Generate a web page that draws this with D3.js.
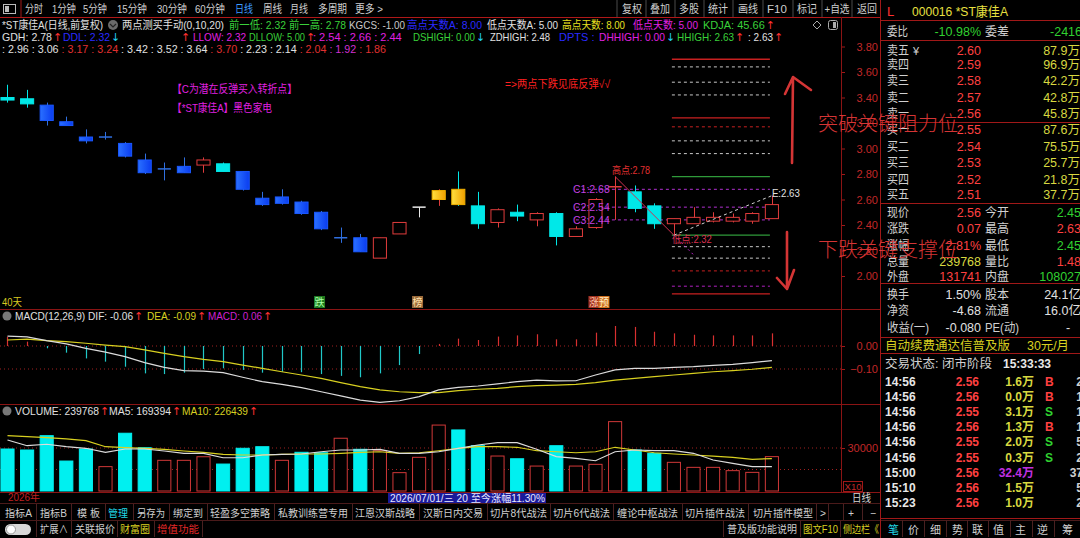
<!DOCTYPE html>
<html>
<head>
<meta charset="utf-8">
<title>*ST康佳A 日线</title>
<script src="https://cdn.jsdelivr.net/npm/d3@7/dist/d3.min.js"></script>
<style>
  html, body { margin: 0; padding: 0; background: #000; overflow: hidden; }
  svg { display: block; }
  text { font-family: "Liberation Sans", "Noto Sans CJK SC", sans-serif; }
</style>
</head>
<body>
<div id="chart"></div>
<script>
// ---------------- data ----------------
const opens  = [3.40,3.39,3.34,3.21,3.09,3.09,3.04,2.91,2.84,2.81,2.87,2.88,2.82,2.61,2.57,2.58,2.50,2.30,2.30,2.14,
                2.33,2.54,2.60,2.68,2.55,2.42,2.50,2.44,2.49,2.31,2.38,2.69,2.66,2.55,2.41,2.41,2.43,2.43,2.43,2.45];
const highs  = [3.50,3.46,3.36,3.25,3.15,3.13,3.05,2.96,2.89,2.93,2.93,2.89,2.82,2.66,2.68,2.59,2.51,2.38,2.33,2.30,
                2.42,2.54,2.68,2.82,2.66,2.53,2.56,2.50,2.50,2.39,2.61,2.78,2.71,2.57,2.45,2.54,2.50,2.49,2.50,2.63];
const lows   = [3.36,3.32,3.18,3.18,3.04,3.07,2.93,2.80,2.75,2.81,2.81,2.82,2.67,2.55,2.56,2.48,2.36,2.26,2.19,2.14,
                2.33,2.46,2.55,2.55,2.37,2.38,2.43,2.39,2.24,2.31,2.37,2.44,2.50,2.37,2.32,2.41,2.42,2.42,2.41,2.45];
const closes = [3.38,3.35,3.22,3.18,3.06,3.09,2.94,2.81,2.84,2.86,2.91,2.82,2.68,2.56,2.62,2.49,2.37,2.30,2.19,2.30,
                2.42,2.54,2.67,2.56,2.41,2.52,2.47,2.49,2.31,2.37,2.60,2.70,2.53,2.41,2.45,2.46,2.46,2.46,2.49,2.56];
// colour the indicator paints on each stick
const paint  = ["cyan","cyan","blue","blue","blue","blue","blue","blue","blue","blue","red","cyan","blue","blue","blue","blue","blue","blue","blue","red",
                "red","white","yellow","yellow","cyan","red","cyan","red","cyan","red","red","red","cyan","cyan","red","red","red","red","red","red"];

const volumes = [293000,286000,386000,209000,293000,170000,403000,302000,214000,214000,239000,188000,298000,309000,214000,270000,267000,368000,291000,281000,
                 128000,235000,460000,426000,316000,244000,225000,174000,316000,174000,186000,484000,286000,263000,200000,165000,165000,142000,130000,239768];
const volUp   = [0,0,0,0,0,1,0,0,1,1,1,0,0,0,1,0,0,1,0,1, 1,1,1,0,0,1,0,1,0,1,1,1,0,0,1,1,1,1,1,1];
const ma5     = [356000,316000,326000,309000,298000,270000,293000,293000,279000,263000,263000,232000,232000,251000,256000,258000,274000,286000,286000,291000,
                 263000,263000,274000,298000,321000,337000,337000,291000,240000,228000,211000,274000,286000,281000,281000,263000,216000,193000,170000,169394];
const ma10    = [386000,379000,372000,363000,351000,309000,302000,298000,291000,279000,270000,256000,251000,251000,256000,258000,258000,263000,270000,274000,
                 263000,267000,281000,298000,309000,309000,305000,281000,274000,267000,274000,305000,286000,267000,258000,251000,244000,235000,221000,226439];

const dif  = [0.043,0.040,0.023,0.009,-0.010,-0.027,-0.046,-0.072,-0.093,-0.107,-0.109,-0.116,-0.136,-0.155,-0.167,-0.181,-0.199,-0.217,-0.235,-0.245,
              -0.238,-0.220,-0.191,-0.180,-0.174,-0.165,-0.155,-0.148,-0.152,-0.151,-0.126,-0.104,-0.097,-0.097,-0.093,-0.090,-0.084,-0.080,-0.072,-0.064];
const dea  = [0.026,0.030,0.023,0.019,0.012,0.004,-0.003,-0.017,-0.032,-0.046,-0.058,-0.068,-0.083,-0.097,-0.112,-0.126,-0.141,-0.159,-0.177,-0.191,
              -0.199,-0.203,-0.203,-0.194,-0.188,-0.184,-0.177,-0.172,-0.170,-0.167,-0.159,-0.148,-0.141,-0.133,-0.126,-0.119,-0.112,-0.107,-0.101,-0.093];
const macd = [0.040,0.019,-0.010,-0.029,-0.054,-0.068,-0.090,-0.119,-0.122,-0.116,-0.100,-0.097,-0.104,-0.116,-0.112,-0.114,-0.122,-0.130,-0.136,-0.119,
              -0.083,-0.035,0.009,0.032,0.026,0.041,0.046,0.051,0.029,0.029,0.058,0.087,0.083,0.062,0.055,0.049,0.046,0.046,0.046,0.055];

// price levels of the 两点测买 indicator (header order)
const levels      = [2.96,3.06,3.17,3.24,3.42,3.52,3.64,3.70,2.23,2.14,2.04,1.92,1.86];
const levelKind   = ["w","w","r","r","w","w","w","r","w","w","r","p","r"];
const levelSolid  = [0,0,0,1,0,0,0,1,0,0,0,0,1];
const cLevels     = [2.68,2.54,2.44];
const cNames      = ["C1","C2","C3"];
const highIdx = 31, highVal = 2.78, lowIdx = 34, lowVal = 2.32, eVal = 2.63;

const priceTicks = [2.0,2.2,2.4,2.6,2.8,3.0,3.2,3.4,3.6,3.8];
const macdTicks  = [-0.1,0];
const volTicks   = [150000,300000];

const markIdx  = [16,21,30,30];
const markText = ["跌","榜","涨","预"];

// right-hand quote panel
const askNames = ["卖五","卖四","卖三","卖二","卖一"];
const askPrice = ["2.60","2.59","2.58","2.57","2.56"];
const askVol   = ["87.9万","96.9万","42.2万","42.8万","45.8万"];
const bidNames = ["买一","买二","买三","买四","买五"];
const bidPrice = ["2.55","2.54","2.53","2.52","2.51"];
const bidVol   = ["87.6万","75.5万","25.7万","21.8万","37.7万"];
const quoteL   = ["现价","涨跌","涨幅","总量","外盘"];
const quoteLV  = ["2.56","0.07","2.81%","239768","131741"];
const quoteR   = ["今开","最高","最低","量比","内盘"];
const quoteRV  = ["2.45","2.63","2.45","1.48","108027"];
const infoL    = ["换手","净资","收益(一)"];
const infoLV   = ["1.50%","-4.68","-0.080"];
const infoR    = ["股本","流通","PE(动)"];
const infoRV   = ["24.1亿","16.0亿","-"];
const tickTime = ["14:56","14:56","14:56","14:56","14:56","14:56","15:00","15:10","15:23"];
const tickPx   = ["2.56","2.56","2.55","2.56","2.55","2.55","2.56","2.56","2.56"];
const tickVol  = ["1.6万","0.0万","3.1万","1.3万","2.0万","0.3万","32.4万","1.5万","1.0万"];
const tickSide = ["B","B","S","B","S","S","","",""];
const tickNum  = ["2","1","1","1","5","2","37","5","2"];

// ---------------- layout ----------------
const W = 1080, H = 538;
const axisX = 841, panelX = 880;
const n = closes.length;
const RED = "#e03c3c", CYAN = "#00e8e8", LINE = "#8a1414";

const svg = d3.select("#chart").append("svg").attr("width", W).attr("height", H);
svg.append("rect").attr("width", W).attr("height", H).attr("fill", "#000");

const defs = svg.append("defs");
const gold = defs.append("linearGradient").attr("id", "gold").attr("x1", 0).attr("x2", 1);
gold.append("stop").attr("offset", "0%").attr("stop-color", "#ffe040");
gold.append("stop").attr("offset", "100%").attr("stop-color", "#f0a000");
const bluegr = defs.append("linearGradient").attr("id", "bluegr").attr("x1", 0).attr("x2", 1);
bluegr.append("stop").attr("offset", "0%").attr("stop-color", "#2a70ff");
bluegr.append("stop").attr("offset", "100%").attr("stop-color", "#0a3cf0");

const x = d3.scaleBand().domain(d3.range(n)).range([-2.3, 781.7]).paddingInner(0.28).paddingOuter(0.14);
const bw = x.bandwidth();
const cx = i => x(i) + bw / 2;
const yP = d3.scaleLinear().domain([2.0, 3.8]).range([276, 46.5]);
const yM = d3.scaleLinear().domain([-0.1, 0]).range([369, 346]);
const yV = d3.scaleLinear().domain([0, 300000]).range([491, 448]);

function txt(g, x0, y0, s, fill, size, anchor, weight) {
  return g.append("text").attr("x", x0).attr("y", y0).text(s)
    .attr("fill", fill).attr("font-size", size || 11)
    .attr("text-anchor", anchor || "start")
    .attr("font-weight", weight || "normal");
}
// squeeze a text into the width it has on the screen
function fit(t, w) {
  if (w && t.node().getComputedTextLength() > w) t.attr("textLength", w).attr("lengthAdjust", "spacingAndGlyphs");
  return t;
}
// header value with the little up/down arrow after it
function seg(g, x0, y0, s, fill, dir, w) {
  const t = fit(txt(g, x0, y0, s, fill, 11), w);
  if (dir) {
    const len = Math.min(t.node().getComputedTextLength(), w || 1e9);
    g.append("text").attr("x", x0 + len + 1).attr("y", y0).text(dir > 0 ? "↑" : "↓")
      .attr("fill", dir > 0 ? "#ff3030" : "#20d0f0").attr("font-size", 11)
      .style("font-family", "DejaVu Sans");
  }
  return t;
}
function hline(g, y0, x0, x1, col) {
  g.append("line").attr("x1", x0).attr("x2", x1).attr("y1", y0).attr("y2", y0).attr("stroke", col || LINE);
}
function vline(g, x0, y0, y1, col) {
  g.append("line").attr("x1", x0).attr("x2", x0).attr("y1", y0).attr("y2", y1).attr("stroke", col || LINE);
}

// ---------------- top toolbar ----------------
const tb = svg.append("g");
tb.append("rect").attr("x", 3.5).attr("y", 4.5).attr("width", 12).attr("height", 9).attr("fill", "none").attr("stroke", "#bbb");
tb.append("rect").attr("x", 5).attr("y", 6).attr("width", 4).attr("height", 6).attr("fill", "#bbb");
vline(tb, 21, 0, 17, "#a01818");
[["分时",25,18],["1分钟",52,24],["5分钟",83,24],["15分钟",117,30],["30分钟",157,30],["60分钟",195,30],["日线",235,18],
 ["周线",263,19],["月线",290,18],["多周期",318,29],["更多 >",355,28]]
  .forEach(d => fit(txt(tb, d[1], 12.5, d[0], d[0] === "日线" ? "#3d9cff" : "#cfcfcf", 11.5), d[2]));
[617,646,675,704,733,763,793,822,852].forEach(v => vline(tb, v, 0, 17, "#4a4a4a"));
[["复权",632],["叠加",660],["多股",689],["统计",718],["画线",748],["F10",777],["标记",807],["+自选",837],["返回",867]]
  .forEach(d => fit(txt(tb, d[1], 12.5, d[0], "#cfcfcf", 11.5, "middle"), d[0] === "+自选" ? 25 : 20));
hline(svg, 17.5, 0, panelX, "#b01818");

// ---------------- indicator header rows ----------------
const hd = svg.append("g");
seg(hd, 2, 29, "*ST康佳A(日线,前复权)", "#e0e0e0", 0, 101);
hd.append("circle").attr("cx", 113).attr("cy", 25).attr("r", 5).attr("fill", "#6a6a6a");
hd.append("path").attr("d", "M110,24 L113,27 L116,24").attr("fill", "none").attr("stroke", "#222").attr("stroke-width", 1.2);
seg(hd, 122, 29, "两点测买手动(0,10,20)", "#e0e0e0", 0, 102);
seg(hd, 229, 29, "前一低: 2.32", "#3ad03a", 0, 57);
seg(hd, 289, 29, "前一高: 2.78", "#3ad03a", 0, 57);
seg(hd, 349, 29, "KGCS: -1.00", "#c8c8c8", 0, 56);
seg(hd, 407, 29, "高点天数A: 8.00", "#2a2aff", 0, 75);
seg(hd, 487, 29, "低点天数A: 5.00", "#e0e0e0", 0, 71);
seg(hd, 562, 29, "高点天数: 8.00", "#e8e020", 0, 63);
seg(hd, 633, 29, "低点天数: 5.00", "#e020e0", 0, 65);
seg(hd, 703, 29, "KDJA: 45.66", "#3ad03a", 1, 63);
hd.append("path").attr("d", "M817,21 L821,25 L817,29 L813,25 Z").attr("fill", "none").attr("stroke", "#aaa");
hd.append("rect").attr("x", 828.5).attr("y", 20.5).attr("width", 9).attr("height", 9).attr("rx", 2).attr("fill", "none").attr("stroke", "#aaa");
hd.append("rect").attr("x", 833).attr("y", 22).attr("width", 3).attr("height", 6).attr("fill", "#aaa");

seg(hd, 2, 41, "GDH: 2.78", "#e0e0e0", 1, 50);
seg(hd, 63, 41, "DDL: 2.32", "#2a2aff", -1, 47);
seg(hd, 180, 41, "", "#fff", 1);
seg(hd, 193, 41, "LLOW: 2.32", "#e020e0", 0, 53);
seg(hd, 249, 41, "DLLOW: 5.00", "#3ad03a", 1, 56);
seg(hd, 313, 41, ": " + cLevels[1].toFixed(2) + " : " + (2.66).toFixed(2) + " : " + cLevels[2].toFixed(2), "#e020e0", 0, 99);
seg(hd, 413, 41, "DSHIGH: 0.00", "#3ad03a", -1, 62);
seg(hd, 490, 41, "ZDHIGH: 2.48", "#e0e0e0", 0, 60);
seg(hd, 559, 41, "DPTS  :", "#2a2aff", 0, 36);
seg(hd, 599, 41, "DHHIGH: 0.00", "#e020e0", -1, 66);
seg(hd, 677, 41, "HHIGH: " + eVal.toFixed(2), "#3ad03a", 1, 57);
seg(hd, 748, 41, ": " + eVal.toFixed(2), "#e0e0e0", 1, 25);

const headCol = {w: "#e0e0e0", r: "#e03030", p: "#d030d0"};
const row3 = hd.append("text").attr("x", 2).attr("y", 53).attr("font-size", 11);
levels.forEach((v, i) => row3.append("tspan").attr("fill", headCol[levelKind[i]]).text(": " + v.toFixed(2) + " "));
fit(row3, 384);

// ---------------- main candle panel ----------------
const gm = svg.append("g");
const lineCol = {w: "#c8c8c8", r: "#c82020", p: "#b020c0"};
const lvX0 = cx(lowIdx) - 2, lvX1 = cx(n - 1) - 2;
levels.forEach((v, i) => {
  gm.append("line").attr("x1", lvX0).attr("x2", lvX1).attr("y1", yP(v)).attr("y2", yP(v))
    .attr("stroke", lineCol[levelKind[i]]).attr("stroke-width", levelSolid[i] ? 1.3 : 1)
    .attr("stroke-dasharray", levelSolid[i] ? null : "3,3");
});
[highVal, lowVal].forEach(v => gm.append("line").attr("x1", lvX0).attr("x2", lvX1)
  .attr("y1", yP(v)).attr("y2", yP(v)).attr("stroke", "#2f9a3a").attr("stroke-width", 1.3));
cLevels.forEach(v => gm.append("line").attr("x1", cx(highIdx - 2)).attr("x2", lvX1)
  .attr("y1", yP(v)).attr("y2", yP(v)).attr("stroke", "#b030d0").attr("stroke-dasharray", "3,3"));

// candles
const strokeOf = {cyan: CYAN, blue: "#1a58ff", red: RED, white: "#e8e8e8", yellow: "#f0b000"};
const fillOf = {cyan: CYAN, blue: "url(#bluegr)", red: "#000", white: "#000", yellow: "url(#gold)"};
const gc = gm.append("g");
d3.range(n).forEach(i => {
  const p = paint[i], up = closes[i] >= opens[i];
  let wick = strokeOf[p];
  if (p === "blue") wick = "#2f6fe0";
  if (p === "yellow") wick = up ? RED : CYAN;
  const xc = Math.round(cx(i)) + 0.5;
  gc.append("line").attr("x1", xc).attr("x2", xc).attr("y1", yP(highs[i])).attr("y2", yP(lows[i]))
    .attr("stroke", wick).attr("stroke-width", 1);
  const top = yP(Math.max(opens[i], closes[i])), bot = yP(Math.min(opens[i], closes[i]));
  if (bot - top < 1.5) {
    gc.append("line").attr("x1", x(i) + 0.5).attr("x2", x(i) + bw - 0.5).attr("y1", top).attr("y2", top)
      .attr("stroke", p === "blue" ? "#2f6fe0" : strokeOf[p]).attr("stroke-width", 1.5);
  } else {
    gc.append("rect").attr("x", x(i) + 0.5).attr("y", top).attr("width", bw - 1).attr("height", bot - top)
      .attr("fill", fillOf[p]).attr("stroke", strokeOf[p]).attr("stroke-width", 1);
  }
});

// high -> low swing, projection to E
gm.append("line").attr("x1", cx(lowIdx)).attr("y1", yP(lowVal))
  .attr("x2", cx(lowIdx) + (cx(lowIdx) - cx(highIdx)) / 3).attr("y2", yP(lowVal) + (yP(lowVal) - yP(highVal)) / 3)
  .attr("stroke", "#c020d0").attr("stroke-dasharray", "2,3");
gm.append("line").attr("x1", cx(highIdx)).attr("y1", yP(highVal)).attr("x2", cx(lowIdx)).attr("y2", yP(lowVal))
  .attr("stroke", "#d03050").attr("stroke-width", 1);
gm.append("line").attr("x1", cx(lowIdx)).attr("y1", yP(lowVal)).attr("x2", cx(n - 1)).attr("y2", yP(eVal))
  .attr("stroke", "#d0d0d0").attr("stroke-dasharray", "3,3");
fit(txt(gm, cx(highIdx) - 3, yP(highVal) - 3, "高点:" + highVal.toFixed(2), "#e03030", 10.5), 38);
fit(txt(gm, cx(lowIdx) - 2, yP(lowVal) + 8, "低点:" + lowVal.toFixed(2), "#d83050", 10.5), 40);
fit(txt(gm, cx(n - 1), yP(eVal) + 1, "E:" + eVal.toFixed(2), "#e0e0e0", 10.5), 28);
cLevels.forEach((v, i) => fit(txt(gm, 573, yP(v) + 4, cNames[i] + ":" + v.toFixed(2), "#c040e0", 10.5), 37));

fit(txt(gm, 172, 93, "【C为潜在反弹买入转折点】", "#e020e0", 11), 125);
fit(txt(gm, 172, 112, "【*ST康佳A】黑色家电", "#e020e0", 11), 100);
fit(txt(gm, 505, 88, "=>两点下跌见底反弹√√", "#ff2020", 11), 105);
fit(txt(gm, 2, 306, "40天", "#d8c820", 11), 20);

const markBg = {"跌": "#1f7a1f", "榜": "#9a6a3a", "涨": "#a03020", "预": "#d07020"};
const markFg = {"跌": "#a8ffa8", "榜": "#ffe0a8", "涨": "#ffc8a8", "预": "#fff0c8"};
markIdx.forEach((idx, i) => {
  const ch = markText[i];
  const mx = x(idx) + (ch === "预" ? 10 : 0);
  gm.append("rect").attr("x", mx).attr("y", 296).attr("width", 11).attr("height", 12).attr("fill", markBg[ch]);
  txt(gm, mx + 5.5, 306, ch, markFg[ch], 10, "middle");
});

// price axis
const ax = svg.append("g").attr("transform", `translate(${axisX},0)`)
  .call(d3.axisRight(yP).tickValues(priceTicks).tickFormat(d3.format(".2f")).tickSize(4).tickSizeOuter(0));
ax.select(".domain").remove();
ax.selectAll("line").attr("stroke", "#a01818");
ax.selectAll("text").attr("fill", "#c02828").attr("x", 37).attr("text-anchor", "end")
  .style("font-size", "11px").style("font-family", "Liberation Sans");

// ---------------- MACD panel ----------------
const gmacd = svg.append("g");
macdTicks.forEach(v => gmacd.append("line").attr("x1", 0).attr("x2", axisX).attr("y1", yM(v)).attr("y2", yM(v))
  .attr("stroke", "#a02020").attr("stroke-dasharray", "1,3"));
d3.range(n).forEach(i => {
  const xc = Math.round(cx(i)) + 0.5;
  gmacd.append("line").attr("x1", xc).attr("x2", xc).attr("y1", yM(0)).attr("y2", yM(macd[i]))
    .attr("stroke", macd[i] >= 0 ? "#d83030" : "#20c8c8").attr("stroke-width", 1.2);
});
gmacd.append("path").datum(dea).attr("fill", "none").attr("stroke", "#d8d020").attr("stroke-width", 1.2)
  .attr("d", d3.line().x((d, i) => cx(i)).y(d => yM(d)));
gmacd.append("path").datum(dif).attr("fill", "none").attr("stroke", "#dcdcdc").attr("stroke-width", 1.2)
  .attr("d", d3.line().x((d, i) => cx(i)).y(d => yM(d)));
const axm = svg.append("g").attr("transform", `translate(${axisX},0)`)
  .call(d3.axisRight(yM).tickValues(macdTicks).tickFormat(d3.format(".2f")).tickSize(4).tickSizeOuter(0));
axm.select(".domain").remove();
axm.selectAll("line").attr("stroke", "#a01818");
axm.selectAll("text").attr("fill", "#c02828").attr("x", 37).attr("text-anchor", "end")
  .style("font-size", "11px").style("font-family", "Liberation Sans");

gmacd.append("circle").attr("cx", 7).attr("cy", 316).attr("r", 4.5).attr("fill", "#777");
seg(gmacd, 15, 320, "MACD(12,26,9) DIF: " + dif[n - 1].toFixed(2), "#e0e0e0", 1, 118);
seg(gmacd, 147, 320, "DEA: " + dea[n - 1].toFixed(2), "#d8d020", 1, 49);
seg(gmacd, 208, 320, "MACD: " + macd[n - 1].toFixed(2), "#d020d0", 1, 54);

// ---------------- volume panel ----------------
const gv = svg.append("g");
volTicks.forEach(v => gv.append("line").attr("x1", 0).attr("x2", axisX).attr("y1", yV(v)).attr("y2", yV(v))
  .attr("stroke", "#a02020").attr("stroke-dasharray", "1,3"));
d3.range(n).forEach(i => {
  const up = volUp[i] === 1;
  gv.append("rect").attr("x", x(i) + 0.5).attr("y", yV(volumes[i])).attr("width", bw - 1)
    .attr("height", yV(0) - yV(volumes[i]))
    .attr("fill", up ? "#000" : "#00f0f0").attr("stroke", up ? "#d03838" : "#00f0f0");
});
gv.append("path").datum(ma10).attr("fill", "none").attr("stroke", "#d8d020").attr("stroke-width", 1.2)
  .attr("d", d3.line().x((d, i) => cx(i)).y(d => yV(d)));
gv.append("path").datum(ma5).attr("fill", "none").attr("stroke", "#dcdcdc").attr("stroke-width", 1.2)
  .attr("d", d3.line().x((d, i) => cx(i)).y(d => yV(d)));
const axv = svg.append("g").attr("transform", `translate(${axisX},0)`)
  .call(d3.axisRight(yV).tickValues([300000]).tickFormat(v => String(v / 10)).tickSize(4).tickSizeOuter(0));
axv.select(".domain").remove();
axv.selectAll("line").attr("stroke", "#a01818");
axv.selectAll("text").attr("fill", "#c02828").attr("x", 37).attr("text-anchor", "end")
  .style("font-size", "11px").style("font-family", "Liberation Sans");
gv.append("rect").attr("x", 843.5).attr("y", 481.5).attr("width", 19).attr("height", 10).attr("fill", "none").attr("stroke", "#a01818");
txt(gv, 853, 490, "X10", "#c02828", 9.5, "middle");

gv.append("circle").attr("cx", 7).attr("cy", 411).attr("r", 4.5).attr("fill", "#777");
seg(gv, 15, 415, "VOLUME: " + volumes[n - 1], "#e0e0e0", 1, 84);
seg(gv, 109, 415, "MA5: " + ma5[n - 1], "#e0e0e0", 1, 62);
seg(gv, 182, 415, "MA10: " + ma10[n - 1], "#d8d020", 1, 66);

// panel frames
hline(svg, 309.5, 0, panelX);
hline(svg, 404.5, 0, panelX);
hline(svg, 492.5, 0, panelX);
vline(svg, axisX + 0.5, 17, 492);

// date row
fit(txt(svg, 8, 501, "2026年", "#c02020", 11), 32);
svg.append("rect").attr("x", 388).attr("y", 493).attr("width", 158).attr("height", 10).attr("fill", "#1a1a9a");
fit(txt(svg, 390, 501.5, "2026/07/01/三 20 至今涨幅11.30%", "#e8e8ff", 10.5), 155);
fit(txt(svg, 852, 502, "日线", "#d8d8d8", 11), 19);

// ---------------- bottom toolbars ----------------
const bt = svg.append("g");
hline(bt, 503.5, 0, panelX, "#4a1a1a");
hline(bt, 520.5, 0, W, "#4a1a1a");
[["指标A",5,27],["指标B",40,27],["模 板",77,23],["管理",108,20],["另存为",137,28],["绑定到",173,30],["轻盈多空策略",210,60],
 ["私教训练营专用",278,70],["江恩汉斯战略",355,60],["汉斯日内交易",423,60],["切片8代战法",490,57],["切片6代战法",553,57],
 ["缠论中枢战法",617,61],["切片插件战法",685,60],["切片插件模型",753,60],[">",820,6],["+",848,6],["−",870,6]]
  .forEach(d => fit(txt(bt, d[1], 517, d[0], d[0] === "管理" ? "#20d8e8" : "#cfcfcf", 10.5), d[2]));
[36,71,105,133,169,207,274,352,419,487,550,613,682,748,816,828,843,862].forEach(v => vline(bt, v + 0.5, 504, 520, "#4a2020"));
bt.append("rect").attr("x", 5).attr("y", 524).attr("width", 26).attr("height", 11).attr("rx", 5.5).attr("fill", "#d8d8d8");
bt.append("circle").attr("cx", 11).attr("cy", 529.5).attr("r", 4.5).attr("fill", "#fff").attr("stroke", "#999");
[["扩展∧",40,"#cfcfcf",28],["关联报价",75,"#cfcfcf",40],["财富圈",120,"#d8d020",30],["增值功能",157,"#e02828",43],
 ["普及版功能说明",727,"#cfcfcf",70],["图文F10",803,"#d8d020",35],["侧边栏《",843,"#d8d020",36]]
  .forEach(d => fit(txt(bt, d[1], 533, d[0], d[2], 10.5), d[3]));
[36,71,117,154,202,723,800,840].forEach(v => vline(bt, v + 0.5, 521, 537, "#4a2020"));

// ---------------- right quote panel ----------------
const rp = svg.append("g");
vline(rp, panelX + 0.5, 0, H, "#a01818");
const lab = "#d0d0d0", grn = "#30d030", red = "#ff4040", yel = "#d8d840";
txt(rp, 887, 16, "L", "#ff3030", 13);
fit(txt(rp, 912, 16, "000016 *ST康佳A", "#e8e040", 13), 96);
hline(rp, 20.5, panelX, W, "#a01818");
fit(txt(rp, 887, 36, "委比", lab, 12.5), 21);
txt(rp, 981, 36, "-10.98%", grn, 12.5, "end");
fit(txt(rp, 985, 36, "委差", lab, 12.5), 24);
txt(rp, 1082, 36, "-2416", grn, 12.5, "end");
hline(rp, 40.5, panelX, W, "#a01818");
const askY = [55, 69, 85, 102, 118], bidY = [134, 151, 167, 184, 199];
askNames.forEach((s, i) => {
  fit(txt(rp, 887, askY[i], s, lab, 12.5), 22);
  txt(rp, 981, askY[i], askPrice[i], red, 12.5, "end");
  txt(rp, 1080, askY[i], askVol[i], yel, 12.5, "end");
});
txt(rp, 913, askY[0], "¥", lab, 11);
hline(rp, 122.5, panelX, W, "#a01818");
bidNames.forEach((s, i) => {
  fit(txt(rp, 887, bidY[i], s, lab, 12.5), 22);
  txt(rp, 981, bidY[i], bidPrice[i], red, 12.5, "end");
  txt(rp, 1080, bidY[i], bidVol[i], yel, 12.5, "end");
});
hline(rp, 203.5, panelX, W, "#a01818");
const qY = [216.5, 233, 250, 265.5, 281];
const qLC = [red, red, red, yel, red], qRC = [grn, red, grn, red, grn];
quoteL.forEach((s, i) => {
  fit(txt(rp, 887, qY[i], s, lab, 12.5), 22);
  txt(rp, 981, qY[i], quoteLV[i], qLC[i], 12.5, "end");
  fit(txt(rp, 985, qY[i], quoteR[i], lab, 12.5), 24);
  txt(rp, 1081, qY[i], quoteRV[i], qRC[i], 12.5, "end");
});
hline(rp, 283.5, panelX, W, "#a01818");
const iY = [299, 315, 331.5];
infoL.forEach((s, i) => {
  fit(txt(rp, 887, iY[i], s, lab, 12.5), i === 2 ? 42 : 22);
  txt(rp, 981, iY[i], infoLV[i], "#e0e0e0", 12.5, "end");
  fit(txt(rp, 985, iY[i], infoR[i], lab, 12.5), i === 2 ? 34 : 24);
  txt(rp, i === 2 ? 1068 : 1081, iY[i], infoRV[i], "#e0e0e0", 12.5, i === 2 ? "middle" : "end");
});
hline(rp, 337.5, panelX, W, "#a01818");
fit(txt(rp, 885, 350, "自动续费通达信普及版", "#d8d020", 12.5), 130);
fit(txt(rp, 1027, 350, "30元/月", "#d8d020", 12.5), 42);
hline(rp, 353.5, panelX, W, "#a01818");
fit(txt(rp, 885, 368, "交易状态: 闭市阶段", lab, 12.5), 112);
txt(rp, 1003, 368, "15:33:33", "#e8e8e8", 12, "start", "bold");
tickTime.forEach((s, i) => {
  const ty = 386 + i * 15.1;
  txt(rp, 885, ty, s, "#e8e8e8", 12, "start", "bold");
  txt(rp, 979, ty, tickPx[i], red, 12, "end", "bold");
  txt(rp, 1034, ty, tickVol[i], tickVol[i] === "32.4万" ? "#c030e0" : yel, 12, "end", "bold");
  if (tickSide[i]) txt(rp, 1045, ty, tickSide[i], tickSide[i] === "B" ? red : grn, 12, "start", "bold");
  txt(rp, 1083, ty, tickNum[i], "#d0d0d0", 12, "end", "bold");
});
hline(rp, 518.5, panelX, W, "#a01818");
[["笔",888],["价",908],["细",930],["势",952],["联",972],["值",993],["主",1015],["逆",1037],["筹",1062]]
  .forEach((d, i) => txt(rp, d[1], 534, d[0], i < 1 ? "#20d8e8" : "#cfcfcf", 11));
[902,924,946,967,988,1010,1032,1054].forEach(v => vline(rp, v + 0.5, 520, 537, "#4a2020"));

// ---------------- hand-drawn marks over the screen ----------------
const hw = svg.append("g").attr("opacity", 0.92);
txt(hw, 818, 131, "突破关键阻力位", "#e63a3a", 20).style("font-family", "Noto Sans CJK SC").attr("font-weight", 300);
txt(hw, 818, 257, "下跌关键支撑位", "#e63a3a", 20).style("font-family", "Noto Sans CJK SC").attr("font-weight", 300);
hw.append("path").attr("d", "M792,163 L793,77 M785,94 L793,77 L811,90").attr("fill", "none")
  .attr("stroke", "#e63a3a").attr("stroke-width", 2.6).attr("stroke-linecap", "round").attr("stroke-linejoin", "round");
hw.append("path").attr("d", "M787,232 L787,289 M777,278 L787,289 L794,270").attr("fill", "none")
  .attr("stroke", "#e63a3a").attr("stroke-width", 2.6).attr("stroke-linecap", "round").attr("stroke-linejoin", "round");
</script>
</body>
</html>
